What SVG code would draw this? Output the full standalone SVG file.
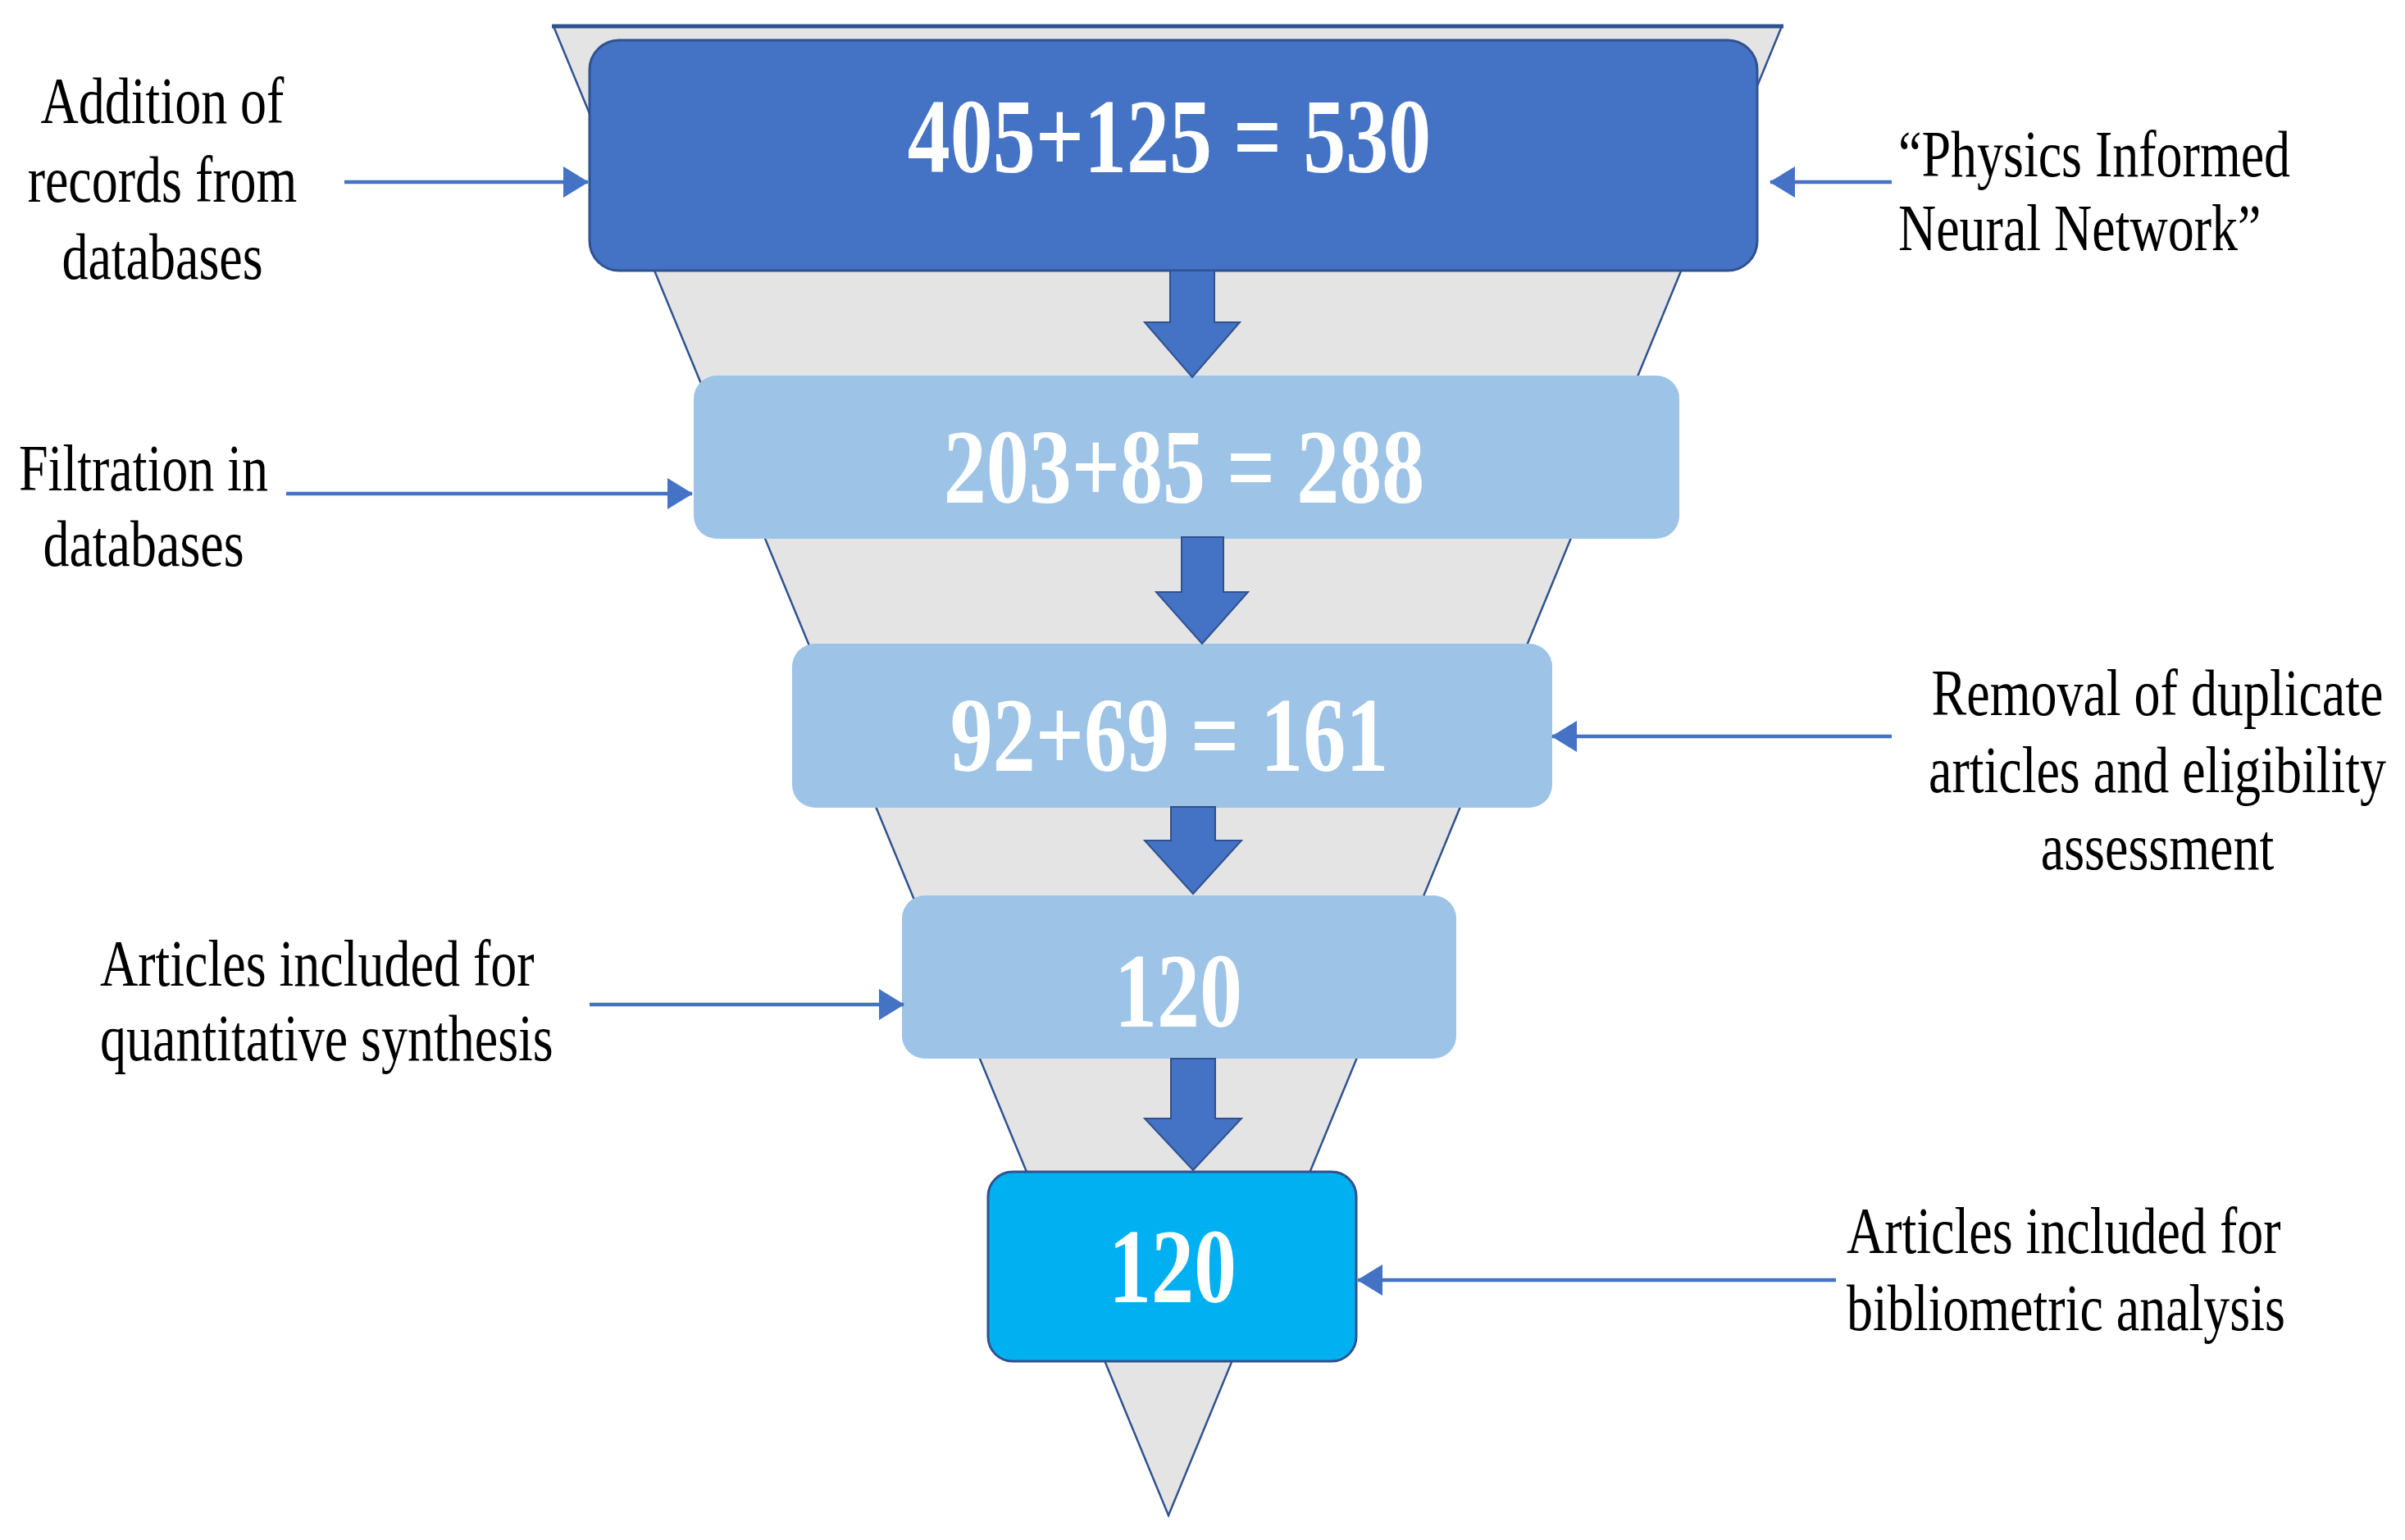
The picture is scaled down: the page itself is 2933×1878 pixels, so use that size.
<svg xmlns="http://www.w3.org/2000/svg" width="2933" height="1878" viewBox="0 0 2933 1878">
<style>
.funnel{fill:#E4E4E4;stroke:#2F528F;stroke-width:2.5}
.top{stroke:#2F528F;stroke-width:5}
.b1{fill:#4472C4;stroke:#2F528F;stroke-width:3}
.b2{fill:#9DC3E6}
.b5{fill:#00B0F0;stroke:#2F528F;stroke-width:3}
.num{font-family:"Liberation Serif","Times New Roman",serif;font-weight:bold;font-size:130px;fill:#FFFFFF;text-anchor:middle}
.lbl{font-family:"Liberation Serif","Times New Roman",serif;font-size:80px;fill:#000000}
.c{text-anchor:middle}
.blk{fill:#4472C4;stroke:#2F528F;stroke-width:2}
.con{stroke:#4472C4;stroke-width:4.5;fill:none;marker-end:url(#ah)}
</style>
<defs>
<marker id="ah" markerUnits="userSpaceOnUse" viewBox="0 0 31 38" refX="30" refY="19" markerWidth="31" markerHeight="38" orient="auto">
<path d="M0,0 L31,19 L0,38 Z" fill="#4472C4"/>
</marker>
</defs>
<rect width="2933" height="1878" fill="#FFFFFF"/>
<g id="funnel">
<polygon class="funnel" points="675,32 2173,32 1425,1848"/>
<line class="top" x1="673" y1="32" x2="2175" y2="32"/>
</g>
<g id="node1">
<rect class="b1" x="719" y="49" width="1424" height="281" rx="36" ry="36"/>
<text class="num" transform="translate(1426,210) scale(0.8,1)">405+125 = 530</text>
</g>
<g id="node2">
<rect class="b2" x="846" y="458" width="1202" height="199" rx="28" ry="28"/>
<text class="num" transform="translate(1444,613) scale(0.8,1)">203+85 = 288</text>
</g>
<g id="node3">
<rect class="b2" x="966" y="785" width="927" height="200" rx="28" ry="28"/>
<text class="num" transform="translate(1426,940) scale(0.8,1)">92+69 = 161</text>
</g>
<g id="node4">
<rect class="b2" x="1100" y="1092" width="676" height="199" rx="28" ry="28"/>
<text class="num" transform="translate(1437,1252) scale(0.8,1)">120</text>
</g>
<g id="node5">
<rect class="b5" x="1205" y="1429" width="449" height="231" rx="30" ry="30"/>
<text class="num" transform="translate(1430,1588) scale(0.8,1)">120</text>
</g>
<g id="label-addition">
<text class="lbl c" transform="translate(198,150) scale(0.8,1)">Addition of</text>
<text class="lbl c" transform="translate(198,246) scale(0.8,1)">records from</text>
<text class="lbl c" transform="translate(198,340) scale(0.8,1)">databases</text>
</g>
<g id="label-pinn">
<text class="lbl" transform="translate(2315,215) scale(0.8,1)">“Physics Informed</text>
<text class="lbl" transform="translate(2315,305) scale(0.8,1)">Neural Network”</text>
</g>
<g id="label-filtration">
<text class="lbl c" transform="translate(175,598) scale(0.8,1)">Filtration in</text>
<text class="lbl c" transform="translate(175,690) scale(0.8,1)">databases</text>
</g>
<g id="label-removal">
<text class="lbl c" transform="translate(2631,872) scale(0.8,1)">Removal of duplicate</text>
<text class="lbl c" transform="translate(2631,966) scale(0.8,1)">articles and eligibility</text>
<text class="lbl c" transform="translate(2631,1060) scale(0.8,1)">assessment</text>
</g>
<g id="label-quantitative">
<text class="lbl" transform="translate(122,1202) scale(0.8,1)">Articles included for</text>
<text class="lbl" transform="translate(122,1293) scale(0.8,1)">quantitative synthesis</text>
</g>
<g id="label-bibliometric">
<text class="lbl" transform="translate(2252,1528) scale(0.8,1)">Articles included for</text>
<text class="lbl" transform="translate(2252,1622) scale(0.8,1)">bibliometric analysis</text>
</g>
<g id="connectors">
<polygon class="blk" points="1427,330 1481,330 1481,393 1512,393 1454,460 1396,393 1427,393"/>
<polygon class="blk" points="1441,655 1492,655 1492,722 1522,722 1466,785 1410,722 1441,722"/>
<polygon class="blk" points="1428,984 1482,984 1482,1025 1514,1025 1455,1090 1396,1025 1428,1025"/>
<polygon class="blk" points="1428,1291 1482,1291 1482,1364 1514,1364 1455,1427 1396,1364 1428,1364"/>
<line class="con" x1="420" y1="222" x2="717" y2="222"/>
<line class="con" x1="2307" y1="222" x2="2159" y2="222"/>
<line class="con" x1="349" y1="602" x2="844" y2="602"/>
<line class="con" x1="2307" y1="898" x2="1893" y2="898"/>
<line class="con" x1="719" y1="1225" x2="1102" y2="1225"/>
<line class="con" x1="2239" y1="1561" x2="1656" y2="1561"/>
</g>
</svg>
